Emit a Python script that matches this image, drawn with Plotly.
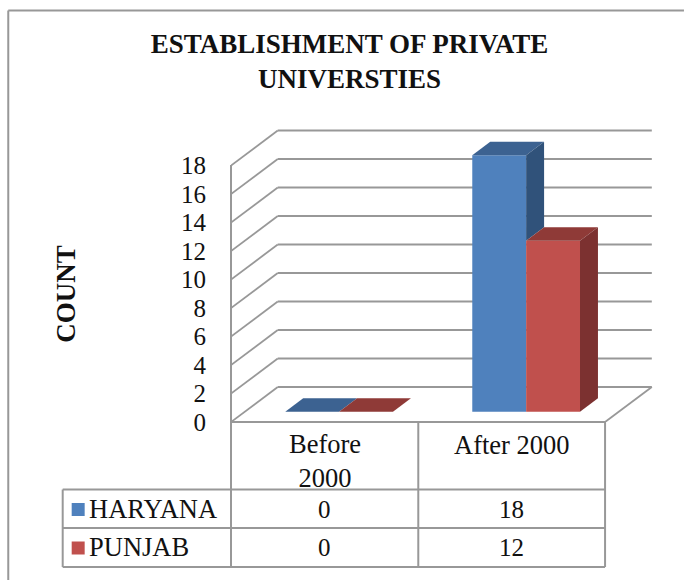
import plotly.graph_objects as go

categories = ["Before<br>2000", "After 2000"]
haryana = [0, 18]
punjab = [0, 12]
tick_values = [0, 2, 4, 6, 8, 10, 12, 14, 16, 18]

BLUE, BLUE_TOP, BLUE_SIDE = "#4F81BD", "#3C6291", "#30527A"
RED, RED_TOP, RED_SIDE = "#C0504D", "#8F3A37", "#7C3130"
GRID = "#989898"
SERIF = "Liberation Serif"

W, H = 684, 580
# plot area in pixels, the axes are fitted to it
LEFT, RIGHT, TOP, BOTTOM = 230.5, 660, 120, 422
CAT_W = 187.25   # px per category
UNIT = 14.25     # px per count

# 3d look: wall/floor depth and bar depth, in axis units
WALL_DX, WALL_DY = 0.25, 2.456
BAR_DX, BAR_DY = 0.096, 0.947
BAR_SHIFT_X, BAR_BASE = 0.078, 0.72
BAR_W = 0.288


# paper coordinates are relative to the plot area
def px(x):
    return (x - LEFT) / (RIGHT - LEFT)


def py(y):
    return (BOTTOM - y) / (BOTTOM - TOP)


fig = go.Figure()

# front faces
for name, vals, colour, off in [("HARYANA", haryana, BLUE, -0.144), ("PUNJAB", punjab, RED, 0.144)]:
    fig.add_trace(go.Bar(
        x=[i + 0.5 + off + BAR_SHIFT_X for i in range(len(categories))],
        y=vals,
        base=BAR_BASE,
        width=BAR_W,
        name=name,
        marker=dict(color=colour, line_width=0),
        showlegend=False,
    ))

# top and side faces
series = [(haryana, punjab, BLUE_TOP, BLUE_SIDE, -0.144), (punjab, None, RED_TOP, RED_SIDE, 0.144)]
for vals, next_vals, top_col, side_col, off in series:
    for i, v in enumerate(vals):
        x0 = i + 0.5 + off + BAR_SHIFT_X - BAR_W / 2
        x1 = x0 + BAR_W
        y1 = v + BAR_BASE
        # the neighbour in front hides the lower part of the side
        low = (next_vals[i] if next_vals else 0) + BAR_BASE
        fig.add_trace(go.Scatter(
            x=[x0, x1, x1 + BAR_DX, x0 + BAR_DX, x0],
            y=[y1, y1, y1 + BAR_DY, y1 + BAR_DY, y1],
            mode="lines", fill="toself", fillcolor=top_col,
            line=dict(width=0), hoverinfo="skip", showlegend=False,
        ))
        if v > 0:
            fig.add_trace(go.Scatter(
                x=[x1, x1 + BAR_DX, x1 + BAR_DX, x1, x1],
                y=[y1, y1 + BAR_DY, low + BAR_DY, low, y1],
                mode="lines", fill="toself", fillcolor=side_col,
                line=dict(width=0), hoverinfo="skip", showlegend=False,
            ))

shapes = []
n = len(categories)


def grid_line(x0, y0, x1, y1):
    shapes.append(dict(type="line", xref="x", yref="y", x0=x0, y0=y0, x1=x1, y1=y1,
                       layer="below", line=dict(color=GRID, width=1.8)))


for t in tick_values:
    grid_line(0, t, WALL_DX, t + WALL_DY)
    grid_line(WALL_DX, t + WALL_DY, n + WALL_DX, t + WALL_DY)
grid_line(n, 0, n + WALL_DX, WALL_DY)


def table_line(x0, y0, x1, y1):
    shapes.append(dict(type="line", xref="paper", yref="paper", x0=px(x0), y0=py(y0), x1=px(x1), y1=py(y1),
                       line=dict(color=GRID, width=2)))


# data table
table_line(230.5, 165, 230.5, 567)
table_line(230.5, 422, 605, 422)
table_line(62, 489.5, 605, 489.5)
table_line(62, 528, 605, 528)
table_line(62, 567, 605, 567)
table_line(62, 489.5, 62, 567)
table_line(418, 422, 418, 567)
table_line(605, 422, 605, 567)

# outer frame, only left and top are in the crop
table_line(7.5, 580, 7.5, 10.5)
table_line(7.5, 10.5, 684, 10.5)

# legend keys
for y0, colour in [(503, BLUE), (541.5, RED)]:
    shapes.append(dict(type="rect", xref="paper", yref="paper", x0=px(71), x1=px(84), y0=py(y0), y1=py(y0 + 13),
                       fillcolor=colour, line_width=0))

annotations = []


def label(x, y, text, size=26.5, anchor="center", bold=False, angle=0):
    annotations.append(dict(
        xref="paper", yref="paper", x=px(x), y=py(y), text=f"<b>{text}</b>" if bold else text,
        showarrow=False, xanchor=anchor, yanchor="middle", align="center", textangle=angle,
        font=dict(family=SERIF, size=size, color="#111111"),
    ))


for i, cat in enumerate(categories):
    cx = 230.5 + CAT_W * (i + 0.5)
    label(cx, 461 if "<br>" in cat else 445, cat)
    label(cx, 509, str(haryana[i]), size=25)
    label(cx, 547, str(punjab[i]), size=25)
label(86, 508.5, "HARYANA", anchor="left")
label(86, 547, "PUNJAB", anchor="left")
label(65, 294, "COUNT", size=27, bold=True, angle=-90)

fig.update_layout(
    width=W, height=H,
    margin=dict(l=LEFT, r=W - RIGHT, t=TOP, b=H - BOTTOM, pad=0, autoexpand=False),
    paper_bgcolor="white", plot_bgcolor="white",
    barmode="overlay",
    title=dict(text="<b>ESTABLISHMENT OF PRIVATE<br>UNIVERSTIES</b>", x=349.5 / W, y=1 - 52.5 / H,
               xanchor="center", yanchor="middle", font=dict(family=SERIF, size=27, color="#111111")),
    xaxis=dict(visible=False, range=[0, (RIGHT - LEFT) / CAT_W]),
    yaxis=dict(range=[0, (BOTTOM - TOP) / UNIT], tickvals=tick_values, ticklen=0, ticklabelstandoff=24,
               showgrid=False, zeroline=False, showline=False,
               tickfont=dict(family=SERIF, size=25, color="#111111")),
    shapes=shapes,
    annotations=annotations,
    showlegend=False,
)

fig.write_html("out.html", config=dict(displayModeBar=False), post_script="document.body.style.margin='0';")
